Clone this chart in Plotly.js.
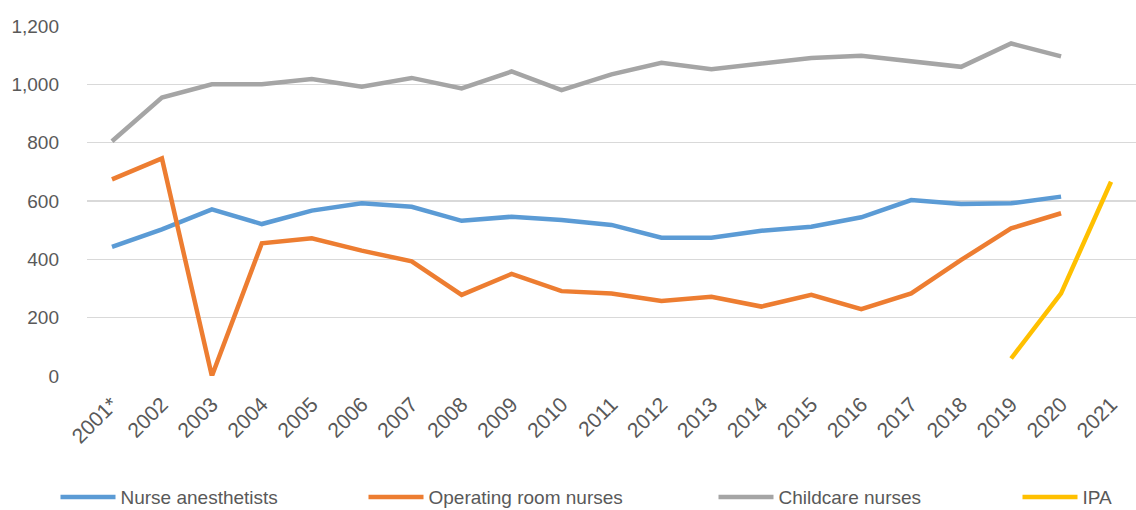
<!DOCTYPE html>
<html>
<head>
<meta charset="utf-8">
<script src="https://cdn.plot.ly/plotly-3.0.1.min.js"></script>
<style>html,body{margin:0;padding:0;background:#fff;}#chart{width:1136px;height:510px;}</style>
</head>
<body>
<div id="chart"></div>
<script>
const years = ["2001*","2002","2003","2004","2005","2006","2007","2008","2009","2010","2011","2012","2013","2014","2015","2016","2017","2018","2019","2020","2021"];
const nurseAnesthetists = [443,503,571,521,567,592,580,532,546,535,518,474,474,498,512,544,603,590,592,615,null];
const operatingRoomNurses = [674,746,0,455,472,430,393,278,350,291,283,257,272,238,278,229,283,398,506,558,null];
const childcareNurses = [805,955,1000,1000,1018,992,1022,986,1044,980,1034,1074,1052,1072,1090,1098,1080,1060,1140,1096,null];
const ipa = [null,null,null,null,null,null,null,null,null,null,null,null,null,null,null,null,null,null,60,283,666];

const seriesNames = ["Nurse anesthetists","Operating room nurses","Childcare nurses","IPA"];
const seriesData = [nurseAnesthetists, operatingRoomNurses, childcareNurses, ipa];
const seriesColors = ["#5B9BD5","#ED7D31","#A5A5A5","#FFC000"];
const legendIds = ["legend","legend2","legend3","legend4"];

const traces = seriesData.map((d,i)=>({
  type:'scatter', mode:'lines', x: years, y: d, name: seriesNames[i], legend: legendIds[i],
  line:{color: seriesColors[i], width:4.5}, connectgaps:false, hoverinfo:'x+y+name'
}));

const plotLeft = 87, plotW = 1049;
const legendLinePx = [60, 368, 718, 1022];
function legendBox(px){
  return {orientation:'h', x:(px - 4.5 - plotLeft)/plotW, xanchor:'left', y:-0.346, yanchor:'middle',
    itemwidth:55, font:{size:19, color:'#595959'}, bgcolor:'rgba(0,0,0,0)'};
}

const layout = {
  width:1136, height:510,
  margin:{l:87, r:0, t:26, b:134, autoexpand:false},
  paper_bgcolor:'#fff', plot_bgcolor:'#fff',
  font:{family:'"Liberation Sans", Arial, sans-serif', color:'#595959', size:18},
  separators:'.,',
  xaxis:{type:'category', range:[-0.5,20.5], tickangle:-45, showgrid:false, zeroline:false, showline:false, ticks:'',
    tickfont:{size:21, color:'#595959'}, ticklabelstandoff:11, automargin:false},
  yaxis:{range:[0,1200], tickvals:[0,200,400,600,800,1000,1200], tickformat:',d', gridcolor:'#D9D9D9', gridwidth:1.5,
    zeroline:false, showline:false, ticks:'', tickfont:{size:19, color:'#595959'}, ticklabelstandoff:27, automargin:false, fixedrange:true},
  showlegend:true,
  legend: legendBox(legendLinePx[0]),
  legend2: legendBox(legendLinePx[1]),
  legend3: legendBox(legendLinePx[2]),
  legend4: legendBox(legendLinePx[3])
};
Plotly.newPlot('chart', traces, layout, {displayModeBar:false, staticPlot:true});
</script>
</body>
</html>
